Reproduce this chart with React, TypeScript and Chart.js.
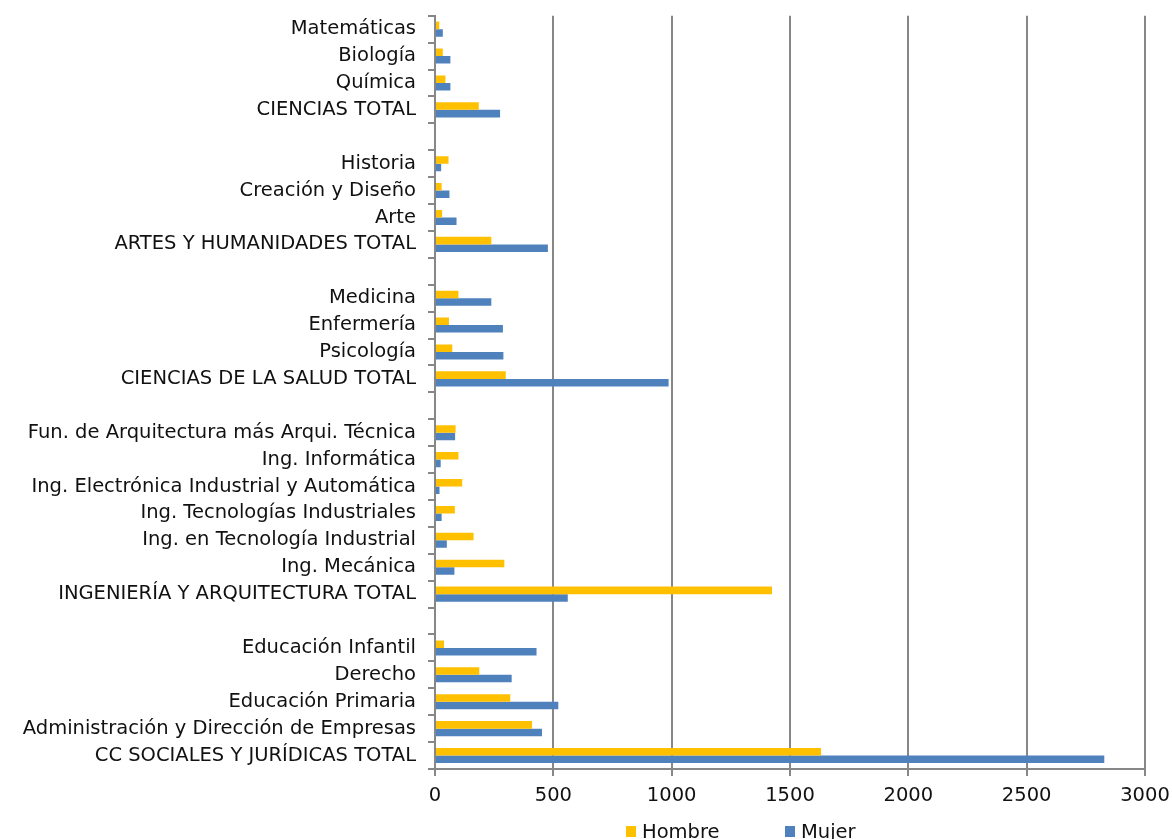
import React, { useEffect, useRef } from 'react';
import { Chart, registerables } from 'chart.js';

Chart.register(...registerables);

const categories = [
  'Matemáticas',
  'Biología',
  'Química',
  'CIENCIAS TOTAL',
  '',
  'Historia',
  'Creación y Diseño',
  'Arte',
  'ARTES Y HUMANIDADES TOTAL',
  '',
  'Medicina',
  'Enfermería',
  'Psicología',
  'CIENCIAS DE LA SALUD TOTAL',
  '',
  'Fun. de Arquitectura más Arqui. Técnica',
  'Ing. Informática',
  'Ing. Electrónica Industrial y Automática',
  'Ing. Tecnologías Industriales',
  'Ing. en Tecnología Industrial',
  'Ing. Mecánica',
  'INGENIERÍA Y ARQUITECTURA TOTAL',
  '',
  'Educación Infantil',
  'Derecho',
  'Educación Primaria',
  'Administración y Dirección de Empresas',
  'CC SOCIALES Y JURÍDICAS TOTAL',
];

const hombre = [
  18, 33, 44, 185, null,
  57, 28, 30, 238, null,
  99, 59, 73, 299, null,
  87, 99, 115, 84, 163, 293, 1424, null,
  38, 187, 318, 410, 1631,
];

const mujer = [
  33, 65, 65, 275, null,
  26, 61, 91, 477, null,
  238, 287, 289, 987, null,
  85, 24, 19, 28, 50, 82, 561, null,
  429, 324, 521, 452, 2828,
];

const seriesNames = ['Hombre', 'Mujer'];
const seriesColors = ['#FFC000', '#4F81BD'];
const xMin = 0;
const xMax = 3000;
const xStep = 500;

const FONT = "'DejaVu Sans', Verdana, sans-serif";
const GRID = '#878787';
const TEXT = '#111111';

export default function App() {
  const ref = useRef<HTMLCanvasElement>(null);

  useEffect(() => {
    if (!ref.current) return;

    const legendPlugin = {
      id: 'bottomLegend',
      afterDraw(chart: any) {
        const { ctx, chartArea } = chart;
        const offsets = [191, 350];
        ctx.save();
        ctx.font = `19.5px ${FONT}`;
        ctx.textBaseline = 'alphabetic';
        ctx.textAlign = 'left';
        chart.data.datasets.forEach((ds: any, i: number) => {
          const x = chartArea.left + offsets[i];
          const yBox = chartArea.bottom + 57;
          ctx.fillStyle = ds.backgroundColor;
          ctx.fillRect(x, yBox, 10, 11);
          ctx.fillStyle = TEXT;
          ctx.fillText(ds.label, x + 16, chartArea.bottom + 69);
        });
        ctx.restore();
      },
    };

    const chart = new Chart(ref.current, {
      type: 'bar',
      data: {
        labels: categories,
        datasets: [
          {
            label: seriesNames[0],
            data: hombre,
            backgroundColor: seriesColors[0],
            categoryPercentage: 0.56,
            barPercentage: 1.0,
          },
          {
            label: seriesNames[1],
            data: mujer,
            backgroundColor: seriesColors[1],
            categoryPercentage: 0.56,
            barPercentage: 1.0,
          },
        ],
      },
      options: {
        indexAxis: 'y',
        responsive: false,
        animation: false,
        layout: { padding: { left: 0, right: 27, top: 15.7, bottom: 20 } },
        plugins: {
          legend: { display: false },
          tooltip: { enabled: false },
        },
        scales: {
          x: {
            min: xMin,
            max: xMax,
            ticks: {
              stepSize: xStep,
              color: TEXT,
              font: { family: FONT, size: 19.5 },
              padding: 8,
              maxRotation: 0,
              callback: (v: any) => String(v),
            },
            grid: {
              color: GRID,
              lineWidth: 2,
              tickLength: 7,
              drawTicks: true,
            },
            border: { color: GRID, width: 2 },
            afterFit: (scale: any) => {
              scale.height = 50;
              scale.paddingRight = 0;
              scale.paddingLeft = 0;
            },
          },
          y: {
            ticks: {
              color: TEXT,
              font: { family: FONT, size: 19.5 },
              padding: 12,
              autoSkip: false,
            },
            grid: {
              offset: true,
              drawOnChartArea: false,
              color: GRID,
              lineWidth: 2,
              tickLength: 7,
            },
            border: { color: GRID, width: 2 },
            afterFit: (scale: any) => {
              scale.width = 435;
              scale.paddingTop = 0;
              scale.paddingBottom = 0;
            },
          },
        },
      },
      plugins: [legendPlugin],
    });

    return () => chart.destroy();
  }, []);

  return (
    <div style={{ position: 'absolute', left: 0, top: 0, width: 1172, height: 839, background: '#fff' }}>
      <canvas ref={ref} width={1172} height={839} />
    </div>
  );
}
